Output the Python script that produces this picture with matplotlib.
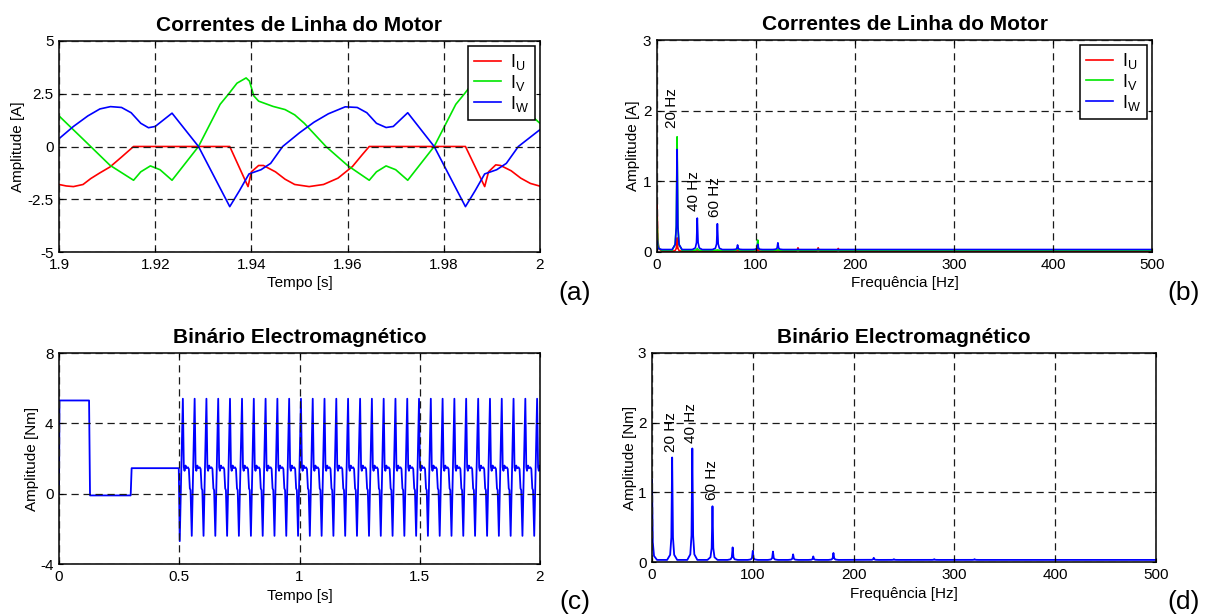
import matplotlib
matplotlib.use("Agg")
import matplotlib.pyplot as plt
import numpy as np

plt.rcParams['font.family'] = ['Liberation Sans', 'DejaVu Sans']
plt.rcParams['mathtext.fontset'] = 'custom'
plt.rcParams['mathtext.rm'] = 'Liberation Sans'
plt.rcParams['mathtext.default'] = 'regular'
plt.rcParams['axes.unicode_minus'] = False

# ---------------- DATA ----------------
# (a) motor line currents, time [s] / amplitude [A]
iu_t = [1.900, 1.9015, 1.903, 1.905, 1.9066, 1.9085, 1.9106, 1.913, 1.9155, 1.9355,
        1.9393, 1.9400, 1.9415, 1.9425, 1.945, 1.947, 1.949, 1.952, 1.955, 1.958,
        1.961, 1.963, 1.9645, 1.9845, 1.9885, 1.9893, 1.9908, 1.9918, 1.994, 1.996,
        1.998, 2.000]
iu_v = [-1.80, -1.87, -1.90, -1.80, -1.52, -1.25, -0.97, -0.50, 0.00, 0.00,
        -1.90, -1.20, -0.90, -0.90, -1.20, -1.55, -1.80, -1.90, -1.80, -1.50,
        -0.95, -0.40, 0.00, 0.00, -1.90, -1.20, -0.87, -0.90, -1.15, -1.50,
        -1.75, -1.88]

iv_t = [1.900, 1.905, 1.9106, 1.9155, 1.917, 1.919, 1.921, 1.9235, 1.929, 1.9335,
        1.9353, 1.937, 1.9389, 1.9396, 1.9405, 1.9415, 1.9445, 1.947, 1.949, 1.951,
        1.9555, 1.960, 1.9645, 1.966, 1.968, 1.970, 1.9725, 1.978, 1.9825, 1.9843,
        1.986, 1.9879, 1.9886, 1.9895, 1.9905, 1.9935, 1.996, 1.998, 2.000]
iv_v = [1.45, 0.35, -0.89, -1.60, -1.20, -0.92, -1.10, -1.60, 0.00, 2.00,
        2.50, 3.00, 3.25, 3.10, 2.40, 2.15, 1.90, 1.75, 1.50, 1.10,
        0.00, -0.90, -1.60, -1.20, -0.92, -1.10, -1.60, 0.00, 2.00, 2.50,
        3.00, 3.25, 3.10, 2.40, 2.15, 1.90, 1.75, 1.50, 1.10]

iw_t = [1.900, 1.903, 1.906, 1.9085, 1.9107, 1.913, 1.915, 1.917, 1.9186, 1.920,
        1.9235, 1.929, 1.9355, 1.9375, 1.9395, 1.942, 1.944, 1.9465, 1.950, 1.953,
        1.956, 1.9595, 1.962, 1.964, 1.966, 1.968, 1.9695, 1.9725, 1.978, 1.9845,
        1.9865, 1.9885, 1.991, 1.993, 1.9955, 2.000]
iw_v = [0.37, 0.95, 1.45, 1.78, 1.89, 1.85, 1.60, 1.10, 0.89, 0.95,
        1.58, 0.00, -2.85, -2.10, -1.30, -1.10, -0.80, 0.00, 0.65, 1.15,
        1.55, 1.88, 1.85, 1.60, 1.10, 0.90, 0.95, 1.60, 0.00, -2.85,
        -2.10, -1.30, -1.10, -0.80, 0.00, 0.80]

# (b) current spectra: harmonic frequency [Hz] / amplitude [A]
b_freq = [0.0, 20.3, 40.7, 61.0, 81.4, 101.7, 122.1, 142.4, 162.8, 183.1,
          203.5, 223.8, 244.2, 264.5, 284.9, 305.2, 325.6, 386.6]
b_iu = [0.72, 0.20, 0.03, 0.02, 0.03, 0.06, 0.03, 0.06, 0.06, 0.05,
        0.02, 0.01, 0.01, 0.01, 0.01, 0.01, 0.01, 0.01]
b_iv = [0.48, 1.63, 0.05, 0.03, 0.07, 0.17, 0.04, 0.03, 0.04, 0.03,
        0.02, 0.03, 0.01, 0.02, 0.02, 0.01, 0.02, 0.01]
b_iw = [0.24, 1.45, 0.48, 0.40, 0.10, 0.11, 0.13, 0.04, 0.04, 0.03,
        0.02, 0.01, 0.01, 0.01, 0.02, 0.01, 0.01, 0.01]
b_base = {'iu': 0.01, 'iv': 0.025, 'iw': 0.035}

# (c) electromagnetic torque [Nm]
c_start_t = [0.000, 0.002, 0.125, 0.129, 0.298, 0.302, 0.498, 0.502]
c_start_v = [0.00, 5.30, 5.30, -0.10, -0.10, 1.45, 1.45, -2.70]
c_peak_t = [0.515, 0.564, 0.613, 0.662, 0.711, 0.761, 0.810, 0.859, 0.908, 0.957,
            1.006, 1.055, 1.104, 1.153, 1.202, 1.252, 1.301, 1.350, 1.399, 1.448,
            1.497, 1.546, 1.595, 1.644, 1.693, 1.743, 1.792, 1.841, 1.890, 1.939,
            1.988]
c_cycle_dt = [0.000, 0.004, 0.007, 0.011, 0.016, 0.021, 0.025, 0.029, 0.032, 0.037]
c_cycle_v = [5.40, 1.50, 1.30, 1.60, 1.45, 1.50, 1.40, 0.30, 0.20, -2.40]

# (d) torque spectrum
d_freq = [0, 20, 40, 60, 80, 100, 120, 140, 160, 180, 200, 220, 240, 260, 280,
          300, 320, 340, 360, 380, 400, 420, 440, 460, 480]
d_amp = [1.18, 1.50, 1.63, 0.80, 0.21, 0.16, 0.15, 0.11, 0.08, 0.13, 0.03, 0.06,
         0.04, 0.03, 0.04, 0.03, 0.04, 0.01, 0.02, 0.015, 0.01, 0.01, 0.01, 0.01, 0.01]
d_base = 0.03

# ------------- helpers (drawing shape of a spectral line) -------------
PEAK_DX = [-5.0, -2.0, -0.8, 0.0, 0.8, 2.0, 5.0]
PEAK_FR = [0.0, 0.05, 0.22, 1.0, 0.22, 0.05, 0.0]


def spectrum_line(freqs, amps, base, fmax=500.0):
    xs, ys = [], []
    for f, a in zip(freqs, amps):
        for dx, fr in zip(PEAK_DX, PEAK_FR):
            x = f + dx
            if x < 0:
                continue
            if f == 0 and dx < 0:
                continue
            xs.append(x)
            ys.append(base + fr * max(a - base, 0))
    xs.append(fmax)
    ys.append(base)
    order = np.argsort(xs, kind='stable')
    return np.array(xs)[order], np.array(ys)[order]


def torque_series():
    ts = list(c_start_t)
    vs = list(c_start_v)
    for tp in c_peak_t:
        for dt, v in zip(c_cycle_dt, c_cycle_v):
            if tp + dt <= 2.0:
                ts.append(tp + dt)
                vs.append(v)
    ts.append(2.0)
    vs.append(1.45)
    return ts, vs


RED, GREEN, BLUE = '#ff0000', '#00e600', '#0000ff'
GRID = dict(linestyle=(0, (5.8, 3.8)), color='#1a1a1a', linewidth=0.9)


def style_axes(ax):
    for s in ax.spines.values():
        s.set_linewidth(1.1)
        s.set_color('black')
    ax.tick_params(direction='in', length=3, width=0.8, top=True, right=True,
                   labelsize=11, pad=4)
    ax.grid(True, **GRID)
    ax.set_axisbelow(False)


fig = plt.figure(figsize=(12.08, 6.15), dpi=100)
W, H = 1208.0, 615.0


def add_ax(l, t, r, b):
    return fig.add_axes([l / W, 1 - b / H, (r - l) / W, (b - t) / H])


ax_a = add_ax(59, 41, 540, 252)
ax_b = add_ax(657, 40, 1152, 252)
ax_c = add_ax(59, 353, 540, 564)
ax_d = add_ax(652, 353, 1156, 562)

# (a)
ax_a.plot(iu_t, iu_v, color=RED, lw=1.2, label=r'I$_{U}$')
ax_a.plot(iv_t, iv_v, color=GREEN, lw=1.2, label=r'I$_{V}$')
ax_a.plot(iw_t, iw_v, color=BLUE, lw=1.2, label=r'I$_{W}$')
ax_a.set_xlim(1.9, 2.0)
ax_a.set_ylim(-5, 5)
ax_a.set_xticks([1.9, 1.92, 1.94, 1.96, 1.98, 2.0])
ax_a.set_xticklabels(['1.9', '1.92', '1.94', '1.96', '1.98', '2'])
ax_a.set_yticks([-5, -2.5, 0, 2.5, 5])
ax_a.set_yticklabels(['-5', '-2.5', '0', '2.5', '5'])

# (b)
for key, amps, col, lab in [('iu', b_iu, RED, r'I$_{U}$'),
                            ('iv', b_iv, GREEN, r'I$_{V}$'),
                            ('iw', b_iw, BLUE, r'I$_{W}$')]:
    fx, fy = spectrum_line(b_freq, amps, b_base[key])
    ax_b.plot(fx, fy, color=col, lw=1.2, label=lab)
ax_b.set_xlim(0, 500)
ax_b.set_ylim(0, 3)
ax_b.set_xticks([0, 100, 200, 300, 400, 500])
ax_b.set_yticks([0, 1, 2, 3])
ax_b.text(15.5, 1.75, '20 Hz', rotation=90, fontsize=11, ha='center', va='bottom')
ax_b.text(37, 0.58, '40 Hz', rotation=90, fontsize=11, ha='center', va='bottom')
ax_b.text(59, 0.50, '60 Hz', rotation=90, fontsize=11, ha='center', va='bottom')

# (c)
tt, tv = torque_series()
ax_c.plot(tt, tv, color=BLUE, lw=1.3)
ax_c.set_xlim(0, 2)
ax_c.set_ylim(-4, 8)
ax_c.set_xticks([0, 0.5, 1, 1.5, 2])
ax_c.set_xticklabels(['0', '0.5', '1', '1.5', '2'])
ax_c.set_yticks([-4, 0, 4, 8])

# (d)
dx_, dy_ = spectrum_line(d_freq, d_amp, d_base)
ax_d.plot(dx_, dy_, color=BLUE, lw=1.3)
ax_d.set_xlim(0, 500)
ax_d.set_ylim(0, 3)
ax_d.set_xticks([0, 100, 200, 300, 400, 500])
ax_d.set_yticks([0, 1, 2, 3])
ax_d.text(18.6, 1.58, '20 Hz', rotation=90, fontsize=11, ha='center', va='bottom')
ax_d.text(39, 1.71, '40 Hz', rotation=90, fontsize=11, ha='center', va='bottom')
ax_d.text(59.7, 0.89, '60 Hz', rotation=90, fontsize=11, ha='center', va='bottom')

for ax in (ax_a, ax_b, ax_c, ax_d):
    style_axes(ax)

TFS = 15
ax_a.set_title('Correntes de Linha do Motor', fontsize=TFS, fontweight='bold', pad=7)
ax_b.set_title('Correntes de Linha do Motor', fontsize=TFS, fontweight='bold', pad=7)
ax_c.set_title('Binário Electromagnético', fontsize=TFS, fontweight='bold', pad=7)
ax_d.set_title('Binário Electromagnético', fontsize=TFS, fontweight='bold', pad=7)

ax_a.set_xlabel('Tempo [s]', fontsize=11, labelpad=3)
ax_c.set_xlabel('Tempo [s]', fontsize=11, labelpad=4)
ax_b.set_xlabel('Frequência [Hz]', fontsize=11, labelpad=3)
ax_d.set_xlabel('Frequência [Hz]', fontsize=11, labelpad=4)
ax_a.set_ylabel('Amplitude [A]', fontsize=11, labelpad=2)
ax_b.set_ylabel('Amplitude [A]', fontsize=11, labelpad=2)
ax_c.set_ylabel('Amplitude [Nm]', fontsize=11, labelpad=1)
ax_d.set_ylabel('Amplitude [Nm]', fontsize=11, labelpad=1)

for ax in (ax_a, ax_b):
    leg = ax.legend(loc='upper right', fontsize=13, handlelength=1.5,
                    borderaxespad=0.25, fancybox=False, framealpha=1,
                    labelspacing=0.05, handletextpad=0.5, borderpad=0.35)
    leg.get_frame().set_edgecolor('black')
    leg.get_frame().set_linewidth(1.1)

fig.text(575 / W, 1 - 293 / H, '(a)', fontsize=19, ha='center', va='center')
fig.text(1184 / W, 1 - 293 / H, '(b)', fontsize=19, ha='center', va='center')
fig.text(575 / W, 1 - 602 / H, '(c)', fontsize=19, ha='center', va='center')
fig.text(1184 / W, 1 - 602 / H, '(d)', fontsize=19, ha='center', va='center')

fig.savefig('out.png', dpi=100)
